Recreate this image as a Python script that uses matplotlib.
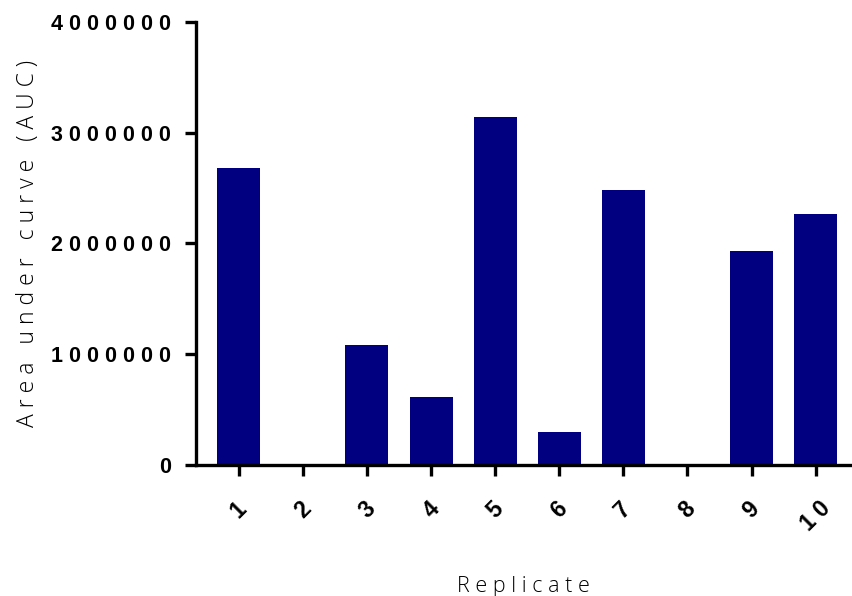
import numpy as np
import matplotlib
matplotlib.use('Agg')
import matplotlib.pyplot as plt

# AUC per replicate
replicates = ['1', '2', '3', '4', '5', '6', '7', '8', '9', '10']
auc = [2680000, 0, 1080000, 610000, 3140000, 300000, 2480000, 0, 1930000, 2270000]
y_ticks = [0, 1000000, 2000000, 3000000, 4000000]


def spaced(s, gap=' '):
    # wide tracking, the way the labels are set
    return gap.join(s)


plt.rcParams['font.family'] = ['Liberation Sans', 'DejaVu Sans']

fig = plt.figure(figsize=(8.52, 5.96), dpi=100)
ax = fig.add_axes([0.230, 0.2198, 0.7688, 0.7433])

x = np.arange(1, len(replicates) + 1)
ax.bar(x, auc, width=0.67, color='#000080', edgecolor='none')

ax.set_xlim(0.333, 10.55)
ax.set_ylim(0, 4000000)

ax.set_yticks(y_ticks)
ax.set_yticklabels([spaced(str(v)) for v in y_ticks],
                   fontsize=15.5, fontweight='bold')
ax.set_xticks(x)
ax.set_xticklabels([spaced(r) for r in replicates], fontsize=16.5,
                   fontweight='bold', rotation=45, ha='center')

for side in ['top', 'right']:
    ax.spines[side].set_visible(False)
for side in ['left', 'bottom']:
    ax.spines[side].set_linewidth(2.4)
    ax.spines[side].set_capstyle('projecting')

ax.tick_params(axis='y', length=8, width=2.4, pad=10)
ax.tick_params(axis='x', length=8, width=2.4, pad=15)

ax.set_ylabel('A r e a   u n d e r   c u r v e   ( A U C )',
              fontsize=16.5, family=['Open Sans', 'DejaVu Sans'],
              fontweight='light', labelpad=8)
ax.set_xlabel(spaced('Replicate'), fontsize=15.5,
              family=['Open Sans', 'DejaVu Sans'], fontweight='light',
              labelpad=29)

fig.savefig('out.png', dpi=100)
